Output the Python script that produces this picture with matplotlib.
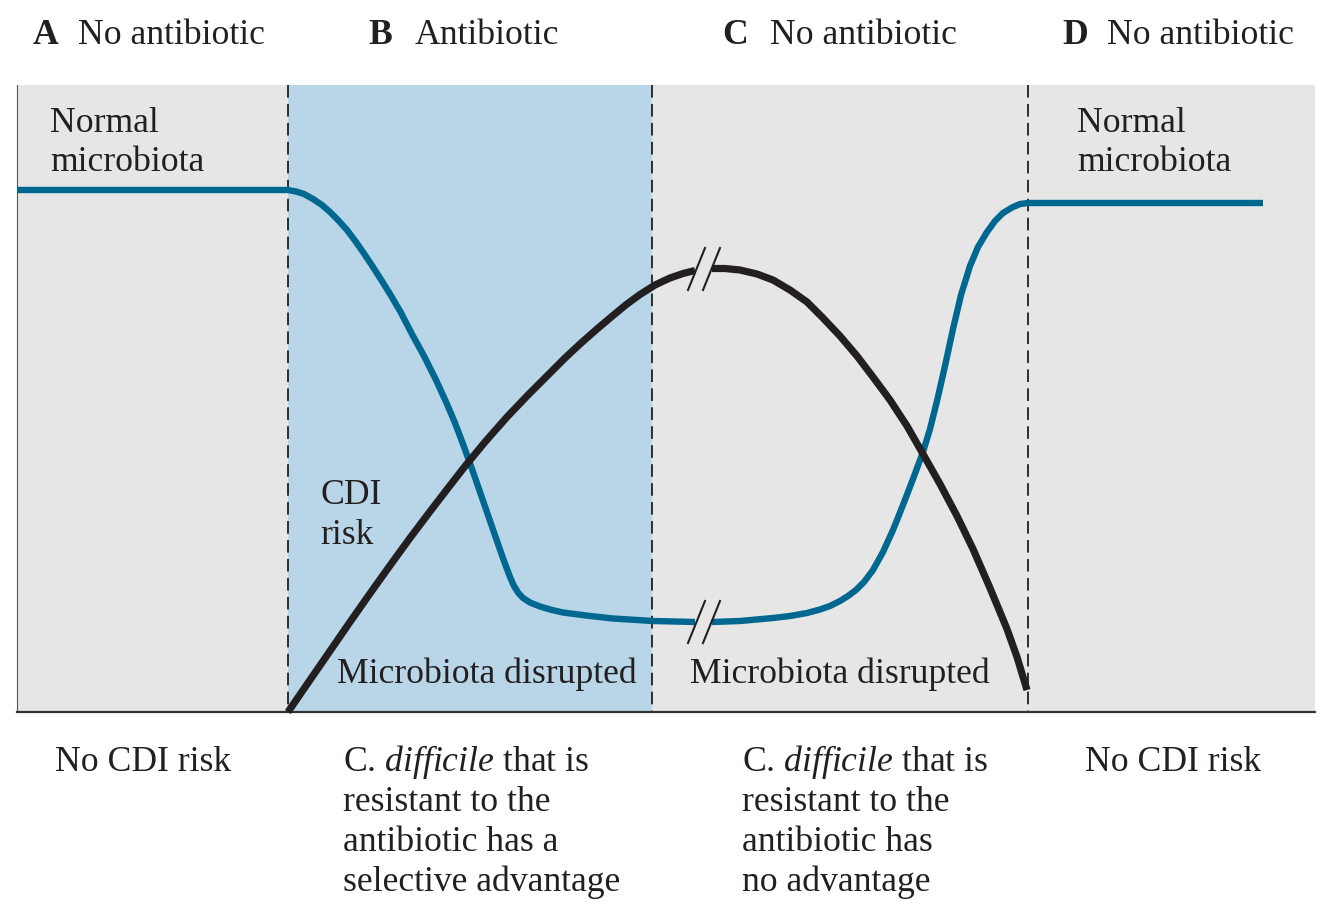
import matplotlib.pyplot as plt

plt.rcParams['font.family'] = ['Liberation Serif', 'DejaVu Serif']
plt.rcParams['mathtext.fontset'] = 'custom'
plt.rcParams['mathtext.rm'] = 'Liberation Serif'
plt.rcParams['mathtext.it'] = 'Liberation Serif:italic'

# phases along the time axis (left edge of each phase, last = right edge of panel)
phase_letters = ['A', 'B', 'C', 'D']
phase_titles = ['No antibiotic', 'Antibiotic', 'No antibiotic', 'No antibiotic']
phase_edges = [17, 288, 652, 1028, 1315]
phase_colors = ['#e6e6e6', '#b9d6e8', '#e6e6e6', '#e6e6e6']

# microbiota level (blue); split at the axis break
micro_x1 = [17, 288, 296, 304, 313, 322, 330, 338, 347, 356, 364, 372, 380, 390, 400, 413,
            424, 436, 447, 455, 463, 472, 480, 489, 497, 504, 510, 514, 518, 523, 530, 540,
            552, 563, 590, 613, 653, 695]
micro_y1 = [190, 190, 191.5, 194, 199, 205, 212, 220, 230, 242, 253.5, 265.5, 278, 294, 311, 336,
            356, 380, 404, 423, 444, 469, 492, 518, 541, 561, 577, 586, 592.5, 598, 602.5, 606.5,
            610, 612.5, 616, 618.5, 621, 622]
micro_x2 = [712, 740, 773, 790, 807, 820, 830, 840, 848, 856, 864, 873, 883, 893, 903, 913,
            923, 930, 937, 945, 953, 961, 970, 978, 987, 995, 1003, 1012, 1020, 1028, 1263]
micro_y2 = [622, 621, 618, 616, 613, 609.5, 606, 601, 596, 590, 582, 570, 552, 530, 505, 479,
            452, 429, 401, 366, 329, 295, 266, 247, 232, 221, 213, 207.5, 204, 203, 203]

# CDI risk (black)
cdi_x1 = [288, 310, 330, 350, 370, 390, 410, 430, 450, 466, 485, 507, 527, 547, 565, 580,
          597, 613, 627, 640, 655, 670, 683, 695]
cdi_y1 = [712, 680, 651, 622, 593.5, 565.5, 538, 511.5, 485.5, 465, 442, 417, 396, 376, 358,
          344, 329, 315.5, 304, 294.5, 285, 278, 273.5, 270.5]
cdi_x2 = [712, 725, 740, 757, 773, 790, 807, 823, 840, 857, 873, 890, 907, 923, 940, 957,
          973, 990, 1007, 1017, 1027]
cdi_y2 = [268.5, 268.5, 270, 274, 280, 290, 302, 318, 336, 356, 377, 400, 426, 454, 484, 516,
          549, 588, 629, 657, 690]

bottom_notes = [
    ['No CDI risk'],
    [r'C. $\mathit{difficile}$ that is', 'resistant to the', 'antibiotic has a', 'selective advantage'],
    [r'C. $\mathit{difficile}$ that is', 'resistant to the', 'antibiotic has', 'no advantage'],
    ['No CDI risk'],
]

blue = '#006890'
black = '#231f20'
fs = 25.7

fig = plt.figure(figsize=(13.34, 9.07), dpi=100)
ax = fig.add_axes([0, 0, 1, 1])
ax.set_xlim(0, 1334)
ax.set_ylim(907, 0)
ax.axis('off')

top, bottom = 85, 712

# shaded phases
for i in range(4):
    ax.fill_between([phase_edges[i], phase_edges[i + 1]], top, bottom,
                    color=phase_colors[i], lw=0)

# phase borders
for x in phase_edges[1:4]:
    ax.plot([x, x], [top, bottom], color=black, lw=1.3, dashes=(7, 3.5))
ax.plot([phase_edges[0], phase_edges[0]], [top, bottom], color='#555555', lw=0.8)
ax.plot([phase_edges[0], phase_edges[-1]], [bottom, bottom], color='#333333', lw=1.6)

# curves
for xs, ys in [(micro_x1, micro_y1), (micro_x2, micro_y2)]:
    ax.plot(xs, ys, color=blue, lw=4.6, solid_capstyle='butt', solid_joinstyle='round')
for xs, ys in [(cdi_x1, cdi_y1), (cdi_x2, cdi_y2)]:
    ax.plot(xs, ys, color=black, lw=5.2, solid_capstyle='butt', solid_joinstyle='round')

# axis-break slashes
for yc in [269, 622]:
    for dx in [0, 15]:
        ax.plot([688 + dx, 705 + dx], [yc + 21, yc - 21], color=black, lw=1.5)

# header
letter_x = [33, 368, 722, 1062]
title_x = [78, 415, 770, 1107]
for i in range(4):
    ax.text(letter_x[i], 44, phase_letters[i], fontsize=fs, fontweight='bold',
            color=black, va='baseline')
    ax.text(title_x[i], 44, phase_titles[i], fontsize=fs, color=black, va='baseline')

# labels inside the panel
for x in [50, 1077]:
    ax.text(x, 132, 'Normal', fontsize=fs, color=black, va='baseline')
    ax.text(x, 171, 'microbiota', fontsize=fs, color=black, va='baseline')
ax.text(320, 504, 'CDI', fontsize=fs, color=black, va='baseline')
ax.text(320, 544, 'risk', fontsize=fs, color=black, va='baseline')
ax.text(337, 683, 'Microbiota disrupted', fontsize=fs, color=black, va='baseline')
ax.text(690, 683, 'Microbiota disrupted', fontsize=fs, color=black, va='baseline')

# notes under the panel
note_x = [55, 343, 742, 1085]
for x, lines in zip(note_x, bottom_notes):
    for j, line in enumerate(lines):
        ax.text(x, 771 + 40 * j, line, fontsize=fs, color=black, va='baseline')

fig.savefig('out.png', dpi=100)
